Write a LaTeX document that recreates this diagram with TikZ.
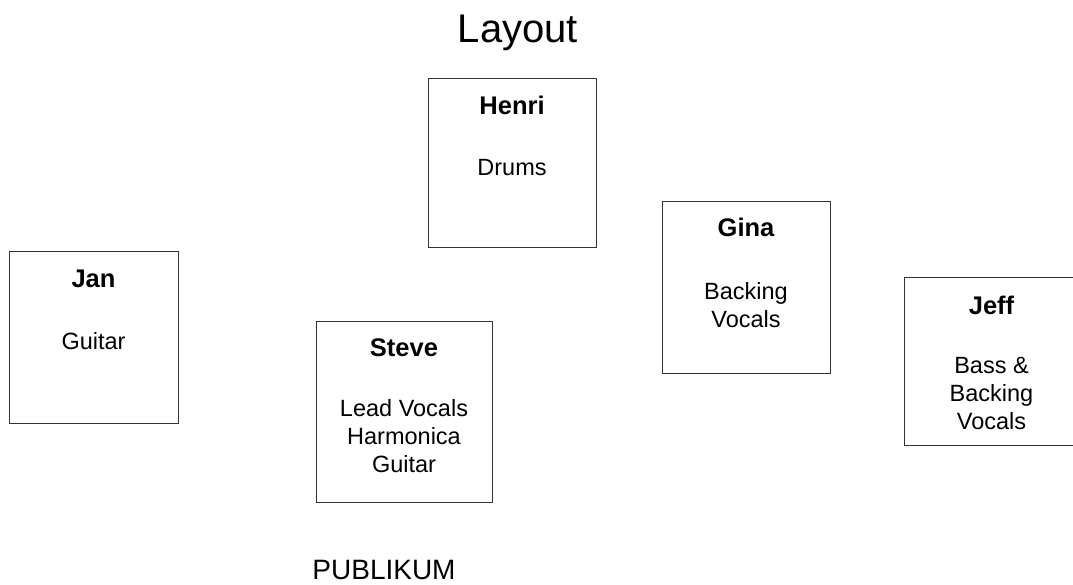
\documentclass[tikz,border=0pt]{standalone}
\usepackage{fontspec}
\setmainfont{Liberation Sans}
\usetikzlibrary{positioning}

\begin{document}
\begin{tikzpicture}[x=1pt, y=-1pt,
	member/.style = {draw=black!80, line width=1pt, inner sep=0pt},
	who/.style = {font=\fontsize{25.5}{30}\selectfont\bfseries, anchor=base, inner sep=0pt},
	what/.style = {font=\fontsize{23.5}{28}\selectfont, align=center, inner sep=0pt},
]
\useasboundingbox (0,0) rectangle (1073,584);

	\node (title) [anchor=base, font=\fontsize{40}{48}\selectfont] at (518,42) {Layout};

	\node (henri) [member, minimum width=168pt, minimum height=169pt] at (512,162.5) {};
	\node (jan)   [member, minimum width=169pt, minimum height=172pt] at (93.5,337) {};
	\node (steve) [member, minimum width=176pt, minimum height=181pt] at (404,411.5) {};
	\node (gina)  [member, minimum width=168pt, minimum height=172pt] at (746,287) {};
	\node (jeff)  [member, minimum width=175pt, minimum height=168pt] at (991.5,361) {};

	\node (henriname) [who] at ([yshift=-37pt]henri.north) {Henri};
	\node (janname)   [who] at ([yshift=-37pt]jan.north)   {Jan};
	\node (stevename) [who] at ([yshift=-36pt]steve.north) {Steve};
	\node (ginaname)  [who] at ([yshift=-36pt]gina.north)  {Gina};
	\node (jeffname)  [who] at ([yshift=-38pt]jeff.north)  {Jeff};

	\node (henrirole) [what, below=82pt of henri.north] {Drums};
	\node (janrole)   [what, below=82pt of jan.north]   {Guitar};
	\node (steverole) [what, below=79pt of steve.north] {Lead Vocals\\Harmonica\\Guitar};
	\node (ginarole)  [what, below=82pt of gina.north]  {Backing\\Vocals};
	\node (jeffrole)  [what, below=81pt of jeff.north]  {Bass \&\\Backing\\Vocals};

	\node (audience) [anchor=base, font=\fontsize{28}{34}\selectfont] at (384,579) {PUBLIKUM};
\end{tikzpicture}
\end{document}
